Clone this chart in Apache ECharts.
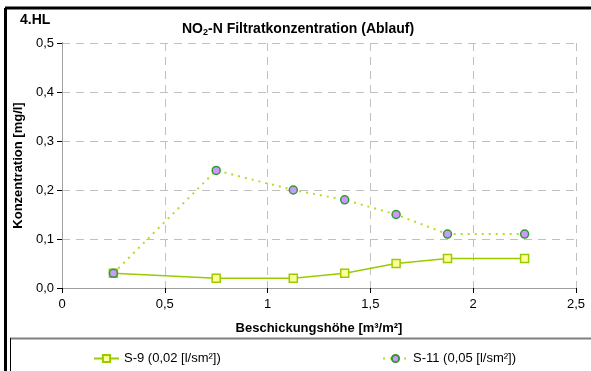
<!DOCTYPE html>
<html>
<head>
<meta charset="utf-8">
<script src="https://cdn.jsdelivr.net/npm/echarts@6/dist/echarts.min.js"></script>
<style>
  html, body { margin: 0; padding: 0; background: #fff; }
  #chart { width: 591px; height: 371px; }
</style>
</head>
<body>
<div id="chart"></div>
<script>
var hoehe = [0.25, 0.75, 1.125, 1.375, 1.625, 1.875, 2.25];
var s9 = [0.03, 0.02, 0.02, 0.03, 0.05, 0.06, 0.06];
var s11 = [0.03, 0.24, 0.20, 0.18, 0.15, 0.11, 0.11];
var seriesNames = ['S-9 (0,02 [l/sm²])', 'S-11 (0,05 [l/sm²])'];

function pairs(ys) {
    return ys.map(function (y, i) { return [hoehe[i], y]; });
}
function komma(v) {
    return String(v).replace('.', ',');
}

var font = 'Liberation Sans, Arial, sans-serif';
var chart = echarts.init(document.getElementById('chart'));
chart.setOption({
    backgroundColor: '#fff',
    animation: false,
    textStyle: { fontFamily: font },
    graphic: [
        // outer frame
        { type: 'line', shape: { x1: 5, y1: 8, x2: 591, y2: 8 }, style: { stroke: '#000', lineWidth: 3 } },
        { type: 'line', shape: { x1: 5.5, y1: 8, x2: 5.5, y2: 371 }, style: { stroke: '#000', lineWidth: 3 } },
        // legend box
        { type: 'line', shape: { x1: 10, y1: 338.5, x2: 591, y2: 338.5 }, style: { stroke: '#808080', lineWidth: 2 } },
        { type: 'line', shape: { x1: 10.5, y1: 338, x2: 10.5, y2: 371 }, style: { stroke: '#000', lineWidth: 1 } },
        {
            type: 'text', left: 20, top: 13,
            style: { text: '4.HL', font: 'bold 14px ' + font, fill: '#000' }
        }
    ],
    title: {
        text: '{n|NO}{s|2}{n|-N Filtratkonzentration (Ablauf)}',
        left: 177,
        top: 16,
        textStyle: {
            rich: {
                n: { fontSize: 14, fontWeight: 'bold', fontFamily: font, color: '#000' },
                s: { fontSize: 9, fontWeight: 'bold', fontFamily: font, color: '#000', verticalAlign: 'bottom', padding: [7, 0, 0, 0] }
            }
        }
    },
    grid: { left: 62, right: 15, top: 43, bottom: 83 },
    legend: [
        {
            data: [seriesNames[0]], left: 88, top: 347,
            itemWidth: 25, itemHeight: 9,
            textStyle: { fontSize: 13, color: '#000', fontFamily: font }
        },
        {
            data: [seriesNames[1]], left: 377, top: 347,
            itemWidth: 25, itemHeight: 9,
            textStyle: { fontSize: 13, color: '#000', fontFamily: font }
        }
    ],
    xAxis: [{
        type: 'value', min: 0, max: 2.5, interval: 0.5,
        name: 'Beschickungshöhe [m³/m²]',
        nameLocation: 'middle', nameGap: 34,
        nameTextStyle: { fontWeight: 'bold', fontSize: 13, color: '#000' },
        axisLine: { lineStyle: { color: '#000' } },
        axisTick: { length: 5, lineStyle: { color: '#000' } },
        axisLabel: { fontSize: 13, color: '#000', margin: 10, formatter: komma },
        splitLine: { show: true, lineStyle: { color: '#c0c0c0', type: [8, 6] } }
    }, {
        type: 'value', min: 0, max: 2.5, position: 'top',
        axisLine: { show: true, lineStyle: { color: '#a0a0a0' } },
        axisTick: { show: false }, axisLabel: { show: false }, splitLine: { show: false }
    }],
    yAxis: [{
        type: 'value', min: 0, max: 0.5, interval: 0.1,
        name: 'Konzentration [mg/l]',
        nameLocation: 'middle', nameGap: 34,
        nameTextStyle: { fontWeight: 'bold', fontSize: 13, color: '#000' },
        axisLine: { show: true, lineStyle: { color: '#000' } },
        axisTick: { show: true, length: 5, lineStyle: { color: '#000' } },
        axisLabel: { fontSize: 13, color: '#000', margin: 8, formatter: function (v) { return v.toFixed(1).replace('.', ','); } },
        splitLine: { show: true, lineStyle: { color: '#c0c0c0', type: [8, 6] } }
    }, {
        type: 'value', min: 0, max: 0.5, position: 'right',
        axisLine: { show: true, lineStyle: { color: '#a0a0a0' } },
        axisTick: { show: false }, axisLabel: { show: false }, splitLine: { show: false }
    }],
    series: [
        {
            name: seriesNames[0],
            type: 'line',
            data: pairs(s9),
            symbol: 'rect', symbolSize: 8,
            lineStyle: { color: '#99cc00', width: 1.5 },
            itemStyle: { color: '#ffff99', borderColor: '#99cc00', borderWidth: 1.5 }
        },
        {
            name: seriesNames[1],
            type: 'line',
            data: pairs(s11),
            symbol: 'circle', symbolSize: 8,
            lineStyle: { color: '#b5dd22', width: 2, type: [2, 5] },
            itemStyle: { color: '#cc99ff', borderColor: '#339933', borderWidth: 1.5 }
        }
    ]
});
</script>
</body>
</html>
